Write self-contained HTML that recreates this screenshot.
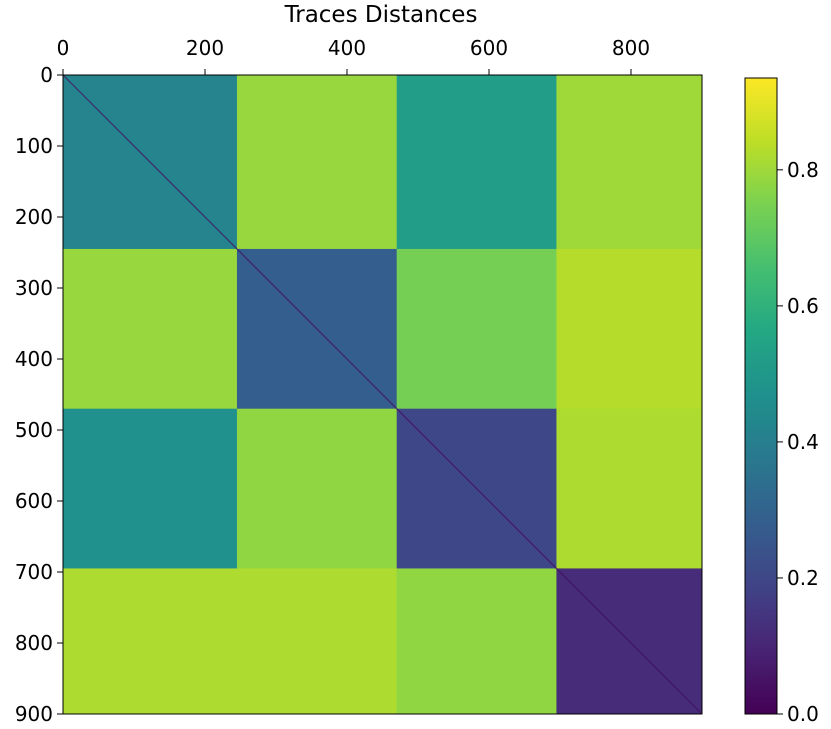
<!DOCTYPE html>
<html><head><meta charset="utf-8"><style>
html,body{margin:0;padding:0;background:#fff;}
svg{display:block;font-family:"DejaVu Sans","Liberation Sans",sans-serif;}
</style></head><body>
<svg id="chart" width="831" height="729" viewBox="0 0 831 729" xmlns="http://www.w3.org/2000/svg"></svg>
<script>
// ---- data ----
const blockEdges = [0, 245, 470, 695, 900];
const blockValues = [
  [0.42, 0.79, 0.52, 0.80],
  [0.79, 0.28, 0.74, 0.83],
  [0.47, 0.78, 0.20, 0.82],
  [0.82, 0.82, 0.78, 0.12]
];
const diagonalValue = 0.02;
const axisTicks = [0, 200, 400, 600, 800];
const yTicks = [0, 100, 200, 300, 400, 500, 600, 700, 800, 900];
const cbarTicks = [0.0, 0.2, 0.4, 0.6, 0.8];
const vmin = 0, vmax = 0.935, nMax = 900;

// ---- layout ----
const L = 63, T = 75, W = 639, H = 639;
const CB = {x: 745, y: 78, w: 32, h: 636};
const sx = v => L + v / nMax * W;
const sy = v => T + v / nMax * H;
const cy = v => CB.y + CB.h - (v - vmin) / (vmax - vmin) * CB.h;

const vir = [[68,1,84],[72,35,116],[64,67,135],[52,94,141],[41,120,142],[32,144,140],[34,167,132],[68,190,112],[121,209,81],[189,222,38],[253,231,37]];
function viridis(v){
  let t = Math.max(0, Math.min(1, (v - vmin) / (vmax - vmin))) * (vir.length - 1);
  const i = Math.min(vir.length - 2, Math.floor(t)), f = t - i;
  const c = vir[i].map((a, k) => Math.round(a + (vir[i+1][k] - a) * f));
  return `rgb(${c[0]},${c[1]},${c[2]})`;
}
const NS = "http://www.w3.org/2000/svg";
const svg = document.getElementById("chart");
function mk(tag, attrs, parent){
  const e = document.createElementNS(NS, tag);
  for (const k in attrs) e.setAttribute(k, attrs[k]);
  (parent || svg).appendChild(e);
  return e;
}

const title = mk("text", {x: 381, y: 22, "text-anchor": "middle", "font-size": 23, fill: "#000"});


title.textContent = "Traces Distances";

for (let r = 0; r < blockValues.length; r++){
  for (let c = 0; c < blockValues[r].length; c++){
    const x0 = sx(blockEdges[c]), x1 = sx(blockEdges[c+1]);
    const y0 = sy(blockEdges[r]), y1 = sy(blockEdges[r+1]);
    const rect = mk("rect", {x: x0, y: y0, width: x1 - x0 + 0.5, height: y1 - y0 + 0.5, fill: viridis(blockValues[r][c])});
    
    
  }
}
const diag = mk("line", {x1: sx(0), y1: sy(0), x2: sx(nMax), y2: sy(nMax), stroke: viridis(diagonalValue), "stroke-width": 1.2, opacity: 0.7});



const frame = mk("rect", {x: L, y: T, width: W, height: H, fill: "none", stroke: "#000", "stroke-width": 1});



axisTicks.forEach(v => {
  const x = sx(v);
  const tk = mk("line", {x1: x, y1: T, x2: x, y2: T - 6, stroke: "#000", "stroke-width": 1});
  
  
  const lb = mk("text", {x: x, y: 55, "text-anchor": "middle", "font-size": 20});
  
  
  lb.textContent = v;
});
yTicks.forEach(v => {
  const y = sy(v);
  const tk = mk("line", {x1: L, y1: y, x2: L - 6, y2: y, stroke: "#000", "stroke-width": 1});
  
  
  const lb = mk("text", {x: L - 10, y: y + 7, "text-anchor": "end", "font-size": 20});
  
  
  lb.textContent = v;
});

const defs = mk("defs", {});
const grad = mk("linearGradient", {id: "cbg", x1: 0, y1: 1, x2: 0, y2: 0}, defs);
for (let i = 0; i <= 20; i++){
  const v = vmin + (vmax - vmin) * i / 20;
  mk("stop", {offset: (i / 20), "stop-color": viridis(v)}, grad);
}
const cb = mk("rect", {x: CB.x, y: CB.y, width: CB.w, height: CB.h, fill: "url(#cbg)", stroke: "#000", "stroke-width": 1});


cbarTicks.forEach(v => {
  const y = cy(v);
  const tk = mk("line", {x1: CB.x + CB.w, y1: y, x2: CB.x + CB.w + 6, y2: y, stroke: "#000", "stroke-width": 1});
  
  
  const lb = mk("text", {x: CB.x + CB.w + 10, y: y + 7, "font-size": 20});
  
  
  lb.textContent = v.toFixed(1);
});
</script>
</body></html>
